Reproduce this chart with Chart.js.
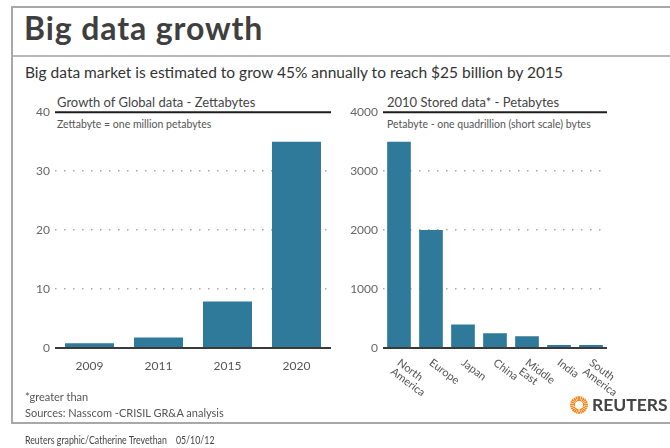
<!DOCTYPE html>
<html><head><meta charset="utf-8">
<script src="https://cdn.jsdelivr.net/npm/chart.js@4"></script>
<style>
html,body{margin:0;padding:0;background:#fff;}
#wrap{position:relative;width:670px;height:448px;overflow:hidden;font-family:Lato,"Open Sans",sans-serif;color:#333;}
.abs{position:absolute;white-space:nowrap;line-height:1;}
canvas{position:absolute;}
</style></head><body>
<div id="wrap">
  <div class="abs" style="left:11px;top:6px;width:700px;height:418px;border:2px solid #a8a8a8;box-sizing:border-box"></div>
  <div class="abs" style="left:13px;top:55px;width:660px;height:2px;background:#b8b8b8"></div>
  <div class="abs" style="left:24px;top:12px;font-size:32px;letter-spacing:0.9px;font-weight:bold;color:#3f3f3f">Big data growth</div>
  <div class="abs" style="left:25px;top:65px;font-size:15.5px;color:#333">Big data market is estimated to grow 45% annually to reach $25 billion by 2015</div>

  <div class="abs" style="left:57px;top:96px;font-size:13px;color:#444">Growth of Global data - Zettabytes</div>
  <div class="abs" style="left:57px;top:119px;font-size:10.5px;color:#555">Zettabyte = one million petabytes</div>
  <div class="abs" style="left:387px;top:96px;font-size:13px;color:#444">2010 Stored data* - Petabytes</div>
  <div class="abs" style="left:387px;top:119px;font-size:10.5px;color:#555">Petabyte - one quadrillion (short scale) bytes</div>

  <canvas id="c1" width="345" height="300" style="left:0;top:100px"></canvas>
  <canvas id="c2" width="330" height="300" style="left:340px;top:100px"></canvas>

  <div class="abs" style="left:25px;top:391px;font-size:11px;color:#555">*greater than</div>
  <div class="abs" style="left:25px;top:407px;font-size:11px;color:#555">Sources: Nasscom -CRISIL GR&amp;A analysis</div>
  <div class="abs" style="left:25px;top:434px;font-size:11px;color:#444;transform:scaleX(0.8);transform-origin:left center">Reuters graphic/Catherine Trevethan&nbsp;&nbsp;&nbsp;&nbsp;05/10/12</div>

  <div class="abs" style="left:570px;top:396px;width:18px;height:18px;border-radius:50%;background:repeating-conic-gradient(#f08a24 0deg 8deg,#f9c48e 8deg 16deg);"></div>
  <div class="abs" style="left:575px;top:401px;width:8px;height:8px;border-radius:50%;background:#fff;"></div>
  <div class="abs" style="left:592px;top:396px;font-size:17.5px;font-weight:bold;color:#444">REUTERS</div>
</div>
<script>
const growthYears = ['2009', '2011', '2015', '2020'];
const growthValues = [0.8, 1.8, 7.9, 35];
const growthTicks = [0, 10, 20, 30, 40];

const regionLabels = [['North', 'America'], ['Europe'], ['Japan'], ['China'], ['Middle', 'East'], ['India'], ['South', 'America']];
const storedValues = [3500, 2000, 400, 250, 200, 50, 50];
const storedTicks = [0, 1000, 2000, 3000, 4000];

const BAR = '#2f799a';
const FONT = 'Lato, "Open Sans", sans-serif';

const edgeLines = {
  id: 'edgeLines',
  afterDatasetsDraw(chart) {
    const {ctx, chartArea: a} = chart;
    ctx.save();
    ctx.lineWidth = 2;
    ctx.strokeStyle = '#1e1e1e';
    ctx.beginPath(); ctx.moveTo(a.left, a.top); ctx.lineTo(a.right, a.top); ctx.stroke();
    ctx.strokeStyle = '#3a3a3a';
    ctx.beginPath(); ctx.moveTo(a.left, a.bottom); ctx.lineTo(a.right, a.bottom); ctx.stroke();
    ctx.restore();
  }
};

const rotLabels = {
  id: 'rotLabels',
  afterDraw(chart) {
    if (!chart.options.plugins.rotLabels) return;
    const ctx = chart.ctx, xs = chart.scales.x, a = chart.chartArea;
    ctx.save();
    ctx.fillStyle = '#555';
    ctx.font = '11px ' + FONT;
    ctx.textAlign = 'left';
    ctx.textBaseline = 'top';
    regionLabels.forEach((lines, i) => {
      const px = xs.getPixelForTick(i);
      ctx.save();
      ctx.translate(px + 3, a.bottom + 9);
      ctx.rotate(37 * Math.PI / 180);
      lines.forEach((t, j) => ctx.fillText(t, 0, j * 11));
      ctx.restore();
    });
    ctx.restore();
  }
};

function makeChart(id, labels, values, ticks, max, yWidth, padRight, barPct, showX, rot) {
  return new Chart(document.getElementById(id), {
    type: 'bar',
    data: { labels: labels, datasets: [{ data: values, backgroundColor: BAR, borderWidth: 0, barPercentage: barPct, categoryPercentage: 1 }] },
    options: {
      responsive: false,
      animation: false,
      layout: { padding: { top: 12, right: padRight, left: 0, bottom: 0 } },
      plugins: { legend: { display: false }, tooltip: { enabled: false }, rotLabels: rot },
      scales: {
        x: {
          grid: { display: false },
          border: { display: false },
          ticks: { display: showX, color: '#555', font: { family: FONT, size: 12 }, padding: 3, maxRotation: 0 },
          afterFit: s => { s.height = 52; }
        },
        y: {
          min: 0, max: max,
          afterBuildTicks: s => { s.ticks = ticks.map(v => ({ value: v })); },
          border: { display: false, dash: [1.5, 7.5] },
          grid: {
            drawTicks: false,
            lineWidth: 1.5,
            color: c => (c.tick && (c.tick.value === 0 || c.tick.value === max)) ? 'rgba(0,0,0,0)' : '#a8a8a8'
          },
          ticks: { color: '#666', font: { family: FONT, size: 12 }, padding: 5, callback: v => String(v) },
          afterFit: s => { s.width = yWidth; }
        }
      }
    },
    plugins: [edgeLines, rotLabels]
  });
}

makeChart('c1', growthYears, growthValues, growthTicks, 40, 55, 14, 0.71, true, false);
makeChart('c2', regionLabels.map(l => l.join(' ')), storedValues, storedTicks, 4000, 43, 63, 0.74, false, true);
</script>
</body></html>
